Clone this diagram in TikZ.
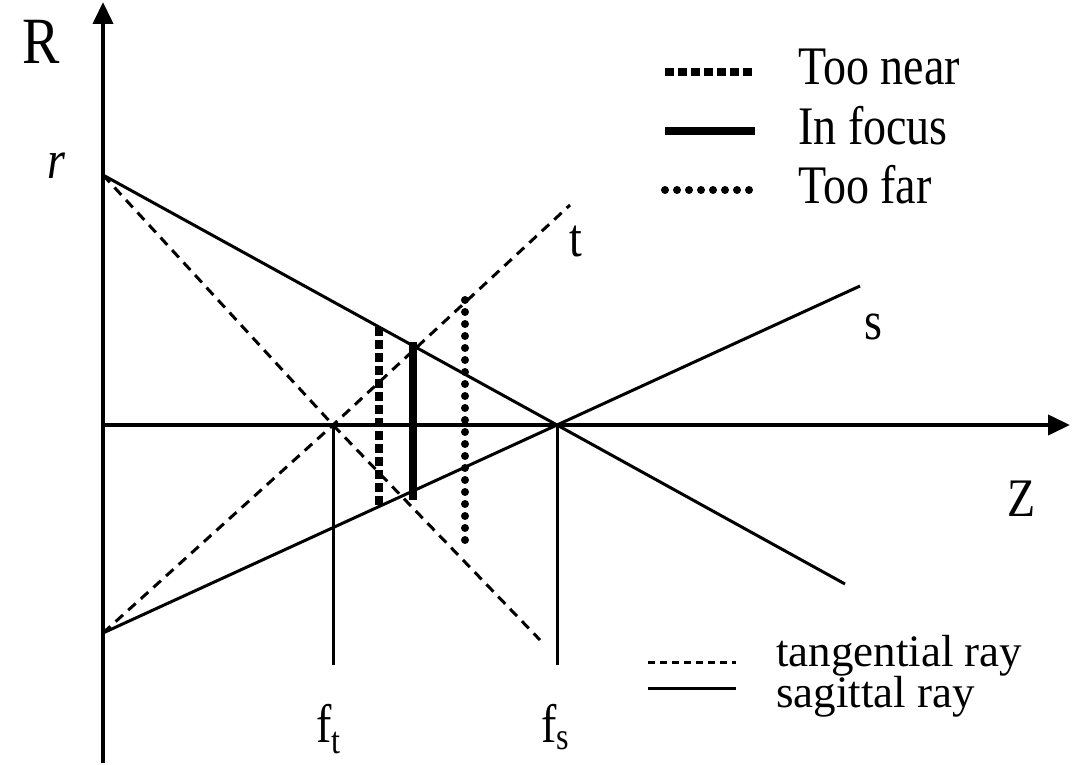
\documentclass[tikz,border=0pt]{standalone}
\usepackage{fontspec}
\setmainfont{Liberation Serif}
\usetikzlibrary{arrows.meta}
\newcommand{\tx}[1]{\scalebox{1}[1.18]{#1}}
\tikzset{
  axis/.style={line width=4pt,-{Triangle[length=22pt,width=20pt]}},
  ray/.style={line width=3pt},
  tray/.style={line width=3pt,dash pattern=on 10pt off 7pt},
  nearbar/.style={line width=8pt,dash pattern=on 9pt off 4pt},
  focusbar/.style={line width=8pt},
  farbar/.style={line width=8pt,line cap=round,dash pattern=on 0pt off 12pt},
  lbl/.style={inner sep=0pt,font=\fontsize{46}{50}\selectfont},
  leg/.style={lbl,anchor=base west},
  bleg/.style={inner sep=0pt,anchor=base west,font=\fontsize{45}{48}\selectfont},
}
\begin{document}
\begin{tikzpicture}[x=1pt,y=-1pt]
\useasboundingbox (0,0) rectangle (1077,765);
% key points
\coordinate (O) at (103,425);
\coordinate (Ybot) at (103,763);
\coordinate (Ytop) at (103,2);
\coordinate (Xend) at (1070,425);
\coordinate (r) at (103,175);
\coordinate (rl) at (103,633);
\coordinate (ft) at (333,425);
\coordinate (fs) at (557,425);
\coordinate (ftb) at (333,665);
\coordinate (fsb) at (557,665);
\coordinate (send1) at (845,584);
\coordinate (send2) at (860,286);
\coordinate (tend1) at (540,640);
\coordinate (tend2) at (570,205);
% axes
\draw[axis] (Ybot) -- (Ytop);
\draw[axis] (O) -- (Xend);
% focal markers
\draw[ray] (ft) -- (ftb);
\draw[ray] (fs) -- (fsb);
% sagittal rays
\draw[ray] (r) -- (fs) -- (send1);
\draw[ray] (rl) -- (fs) -- (send2);
% tangential rays
\draw[tray] (r) -- (ft) -- (tend1);
\draw[tray] (rl) -- (ft) -- (tend2);
% focus bars
\coordinate (n1) at (379,327);
\coordinate (n2) at (379,505);
\coordinate (i1) at (413,342);
\coordinate (i2) at (413,500);
\coordinate (a1) at (465,300);
\coordinate (a2) at (465,545);
\draw[nearbar] (n1) -- (n2);
\draw[focusbar] (i1) -- (i2);
\draw[farbar] (a1) -- (a2);
% labels
\node[lbl,font=\fontsize{56}{60}\selectfont] (R) at (41,42) {\tx{R}};
\node[lbl] (rlab) at (57,166) {\tx{\textit{r}}};
\node[lbl] (tlab) at (576,241) {\tx{t}};
\node[lbl] (slab) at (873,327) {\tx{s}};
\node[lbl] (Zlab) at (1022,499) {\tx{Z}};
\node[leg] (ftlab) at (316,742) {\tx{f\textsubscript{t}}};
\node[leg] (fslab) at (541,742) {\tx{f\textsubscript{s}}};
% top legend
\coordinate (l1a) at (665,72);
\coordinate (l1b) at (753,72);
\coordinate (l2a) at (665,131);
\coordinate (l2b) at (755,131);
\coordinate (l3a) at (665,190);
\coordinate (l3b) at (753,190);
\draw[nearbar] (l1a) -- (l1b);
\draw[focusbar] (l2a) -- (l2b);
\draw[farbar] (l3a) -- (l3b);
\node[leg] (near) at (798,85) {\tx{Too near}};
\node[leg] (focus) at (798,145) {\tx{In focus}};
\node[leg] (far) at (798,204) {\tx{Too far}};
% bottom legend
\coordinate (b1a) at (648,662);
\coordinate (b1b) at (736,662);
\coordinate (b2a) at (648,688);
\coordinate (b2b) at (736,688);
\draw[line width=3pt,dash pattern=on 7pt off 5pt] (b1a) -- (b1b);
\draw[ray] (b2a) -- (b2b);
\node[bleg] (tang) at (776,666) {tangential ray};
\node[bleg] (sag) at (776,707) {sagittal ray};
\end{tikzpicture}
\end{document}
